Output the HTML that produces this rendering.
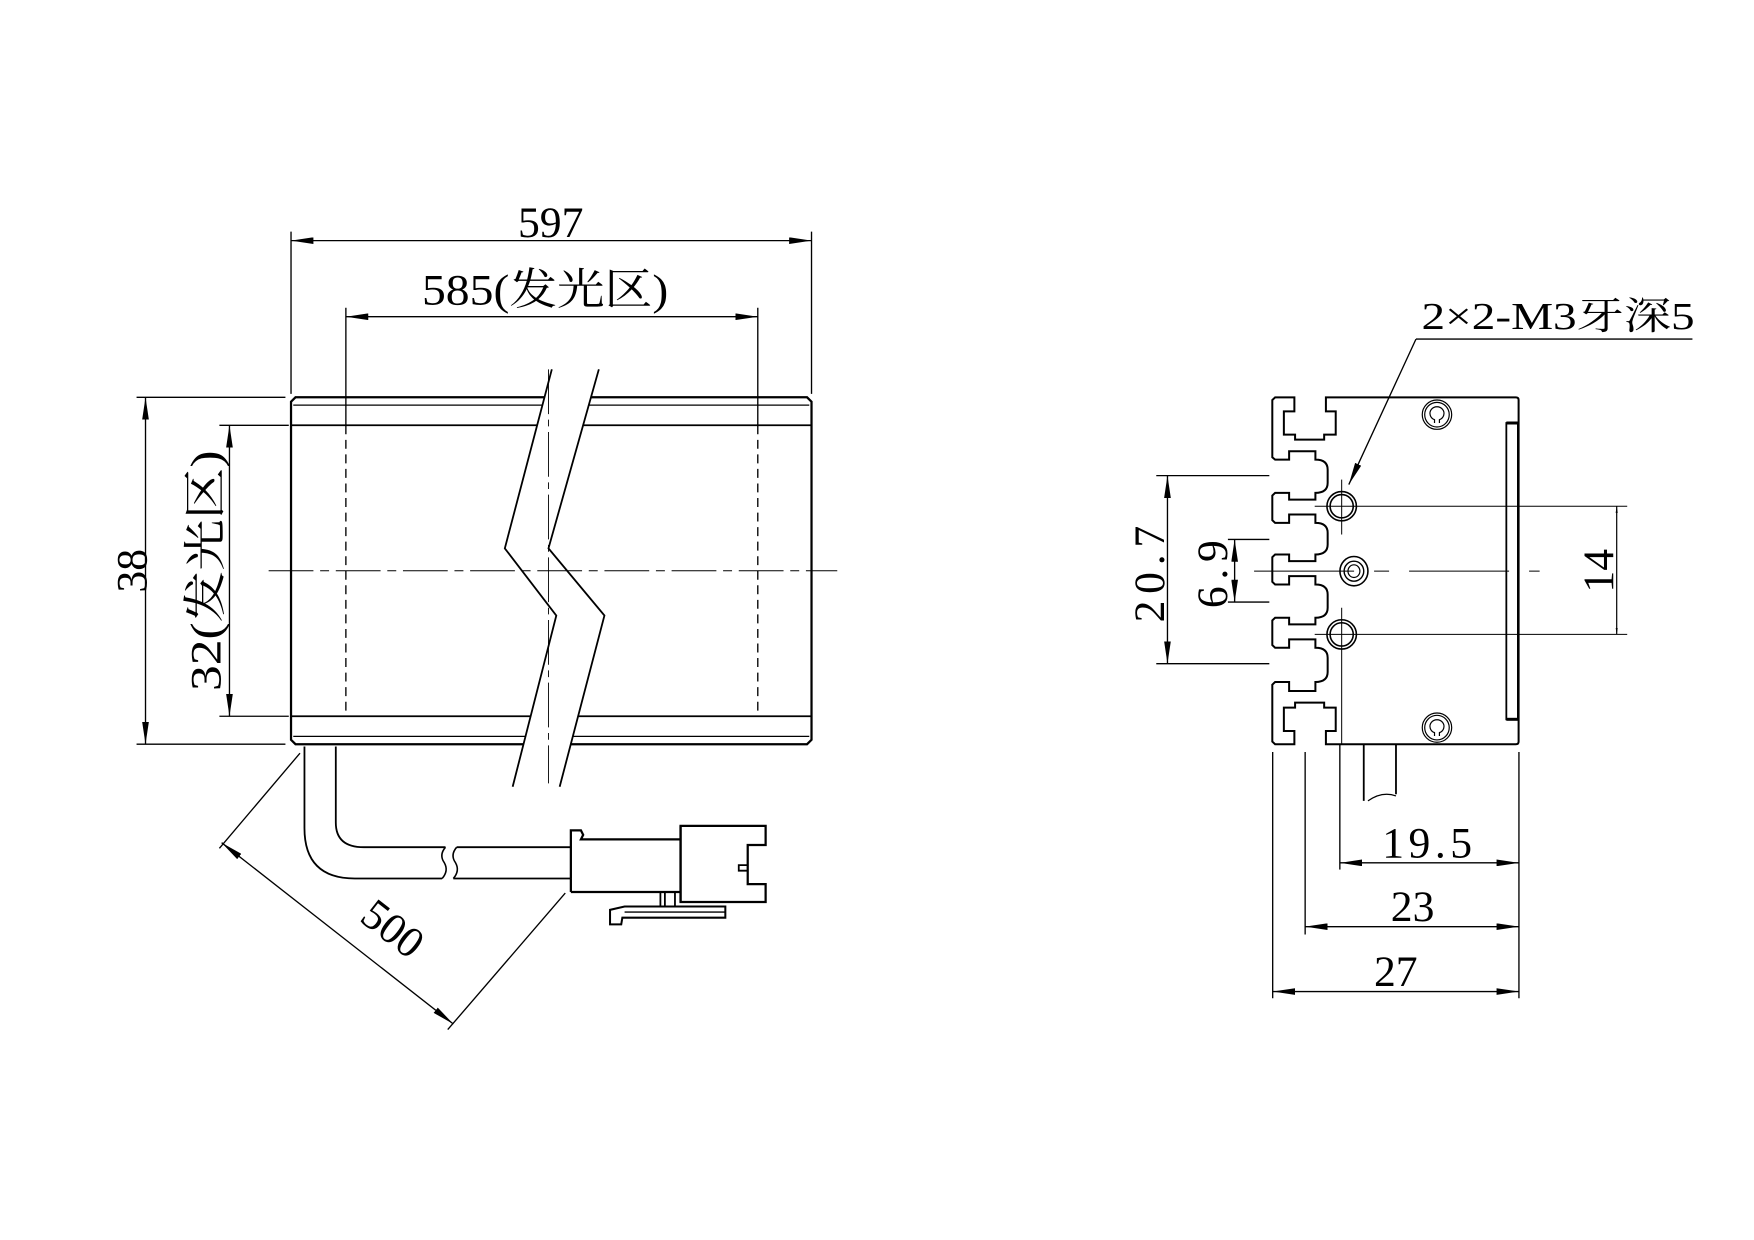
<!DOCTYPE html>
<html><head><meta charset="utf-8"><style>
html,body{margin:0;padding:0;background:#fff;}
svg{display:block;}
text{font-family:"Liberation Serif","Noto Serif CJK SC",serif;fill:#000;}
</style></head><body>
<svg width="1754" height="1240" viewBox="0 0 1567 1108" preserveAspectRatio="none" xmlns="http://www.w3.org/2000/svg">
<defs>
<marker id="a" viewBox="0 0 20 6" refX="20" refY="3" markerWidth="20" markerHeight="6" markerUnits="userSpaceOnUse" orient="auto-start-reverse">
<path d="M0,0 L20,3 L0,6 Z" fill="#000"/>
</marker>
</defs>
<g fill="none" stroke="#000" stroke-width="1.2">
<line x1="260" y1="207" x2="260" y2="352"/>
<line x1="725" y1="207" x2="725" y2="352"/>
<line x1="260" y1="215" x2="725" y2="215" marker-start="url(#a)" marker-end="url(#a)"/>
<line x1="309" y1="275" x2="309" y2="380"/>
<line x1="677" y1="275" x2="677" y2="380"/>
<line x1="309" y1="283" x2="677" y2="283" marker-start="url(#a)" marker-end="url(#a)"/>
<path d="M264,355 L721,355 L725,359 L725,661 L721,665 L264,665 L260,661 L260,359 Z" stroke-width="2"/>
<line x1="262" y1="362" x2="723" y2="362"/>
<line x1="260" y1="380" x2="725" y2="380" stroke-width="1.6"/>
<line x1="260" y1="640" x2="725" y2="640" stroke-width="1.6"/>
<line x1="262" y1="658" x2="723" y2="658"/>
<line x1="309" y1="380" x2="309" y2="640" stroke-dasharray="8,5"/>
<line x1="677" y1="380" x2="677" y2="640" stroke-dasharray="8,5"/>
<polygon points="493,330 451,490 497,550 458,703 500,703 540,550 490,490 535,330" fill="#fff" stroke="none"/>
<polyline points="493,330 451,490 497,550 458,703" stroke-width="1.6"/>
<polyline points="535,330 490,490 540,550 500,703" stroke-width="1.6"/>
<line x1="490" y1="330" x2="490" y2="700" stroke-width="0.8" stroke-dasharray="40,5,6,5"/>
<line x1="240" y1="510" x2="748" y2="510" stroke-width="0.9" stroke-dasharray="40,6,8,6"/>
<line x1="122" y1="355" x2="255" y2="355"/>
<line x1="122" y1="665" x2="255" y2="665"/>
<line x1="130" y1="355" x2="130" y2="665" marker-start="url(#a)" marker-end="url(#a)"/>
<line x1="196" y1="380" x2="258" y2="380"/>
<line x1="196" y1="640" x2="258" y2="640"/>
<line x1="205" y1="380" x2="205" y2="640" marker-start="url(#a)" marker-end="url(#a)"/>
<path d="M272,667 L272,740 Q272,785 317,785 L395,785" stroke-width="1.6"/>
<path d="M300,667 L300,735 Q300,757 325,757 L398,757" stroke-width="1.6"/>
<path d="M398,757 Q392,764 397,771 Q401,778 395,785" stroke-width="1.4"/>
<path d="M408,757 Q402,764 407,771 Q411,778 405,785" stroke-width="1.4"/>
<line x1="408" y1="757" x2="510" y2="757" stroke-width="1.6"/>
<line x1="405" y1="785" x2="510" y2="785" stroke-width="1.6"/>
<path d="M510,785 L510,742 L519,742 L521,746 L519,750 L608,750" stroke-width="2"/>
<line x1="510" y1="785" x2="510" y2="797" stroke-width="2"/>
<path d="M510,797 L608,797 M608,738 L684,738 L684,755 L668,755 L668,790 L684,790 L684,806 L608,806 Z" stroke-width="2"/>
<line x1="608" y1="738" x2="608" y2="806" stroke-width="2"/>
<path d="M668,773 L660,773 L660,778 L668,778" stroke-width="1.6"/>
<path d="M590,797 L590,810 M594,797 L594,810 M603,797 L603,810" stroke-width="1.6"/>
<path d="M648,810 L558,810 L545,813 L545,826 L555,826 L556,820 L648,820 Z" stroke-width="1.8"/>
<line x1="558" y1="815" x2="648" y2="815"/>
<line x1="268" y1="673" x2="196" y2="758"/>
<line x1="505" y1="798" x2="400" y2="920"/>
<line x1="198" y1="753" x2="405" y2="915" marker-start="url(#a)" marker-end="url(#a)"/>

<g transform="translate(1075,314) scale(0.313,0.2975)">
<path vector-effect="non-scaling-stroke" stroke-width="2" d="M900,146 Q900,138 892,138 L350,138 L350,180 L378,180 L378,250 L345,250 L345,265 L262,265 L262,250 L230,250 L230,180 L260,180 L260,138 L205,138 L197,146 L197,318 L205,325 L245,325 L245,300 L320,300 L320,325 Q355,325 355,355 L355,395 Q355,425 320,425 L320,445 L245,445 L245,425 L205,425 L197,433 L197,507 L205,515 L245,515 L245,490 L320,490 L320,515 Q355,515 355,545 L355,580 Q355,610 320,610 L320,630 L245,630 L245,610 L205,610 L197,618 L197,692 L205,700 L245,700 L245,675 L320,675 L320,700 Q355,700 355,730 L355,770 Q355,800 320,800 L320,820 L245,820 L245,800 L205,800 L197,808 L197,882 L205,890 L245,890 L245,865 L320,865 L320,890 Q355,890 355,920 L355,963 Q355,993 320,993 L320,1020 L245,1020 L245,993 L205,993 L197,1001 L197,1172 L205,1180 L260,1180 L260,1140 L230,1140 L230,1070 L262,1070 L262,1055 L345,1055 L345,1070 L378,1070 L378,1140 L350,1140 L350,1180 L892,1180 Q900,1180 900,1172 Z"/>
<rect vector-effect="non-scaling-stroke" x="865" y="215" width="33" height="890" stroke-width="1.8"/>
<line vector-effect="non-scaling-stroke" x1="865" y1="215" x2="900" y2="215" stroke-width="3"/>
<line vector-effect="non-scaling-stroke" x1="865" y1="1105" x2="900" y2="1105" stroke-width="3"/>
<ellipse vector-effect="non-scaling-stroke" cx="667" cy="190" rx="42" ry="44"/>
<ellipse vector-effect="non-scaling-stroke" cx="667" cy="190" rx="35" ry="37"/>
<path vector-effect="non-scaling-stroke" d="M660,215 L660,205 A20,20 0 1 1 674,205 L674,215"/>
<ellipse vector-effect="non-scaling-stroke" cx="667" cy="1130" rx="42" ry="44"/>
<ellipse vector-effect="non-scaling-stroke" cx="667" cy="1130" rx="35" ry="37"/>
<path vector-effect="non-scaling-stroke" d="M660,1155 L660,1145 A20,20 0 1 1 674,1145 L674,1155"/>
<ellipse vector-effect="non-scaling-stroke" cx="395" cy="465" rx="42" ry="44" stroke-width="1.6"/>
<ellipse vector-effect="non-scaling-stroke" cx="395" cy="465" rx="33" ry="35" stroke-width="1.6"/>
<ellipse vector-effect="non-scaling-stroke" cx="395" cy="850" rx="42" ry="44" stroke-width="1.6"/>
<ellipse vector-effect="non-scaling-stroke" cx="395" cy="850" rx="33" ry="35" stroke-width="1.6"/>
<ellipse vector-effect="non-scaling-stroke" cx="430" cy="660" rx="40" ry="44" stroke-width="1.6"/>
<ellipse vector-effect="non-scaling-stroke" cx="430" cy="660" rx="28" ry="30" stroke-width="1.4"/>
<ellipse vector-effect="non-scaling-stroke" cx="430" cy="660" rx="17" ry="19"/>
<line vector-effect="non-scaling-stroke" x1="395" y1="385" x2="395" y2="550" stroke-width="1"/>
<line vector-effect="non-scaling-stroke" x1="395" y1="770" x2="395" y2="1180" stroke-width="1"/>
<line vector-effect="non-scaling-stroke" x1="318" y1="465" x2="1210" y2="465" stroke-width="1"/>
<line vector-effect="non-scaling-stroke" x1="318" y1="850" x2="1210" y2="850" stroke-width="1"/>
<line vector-effect="non-scaling-stroke" x1="145" y1="660" x2="960" y2="660" stroke-width="1" stroke-dasharray="100,20,15,20"/>
<line vector-effect="non-scaling-stroke" x1="1180" y1="465" x2="1180" y2="850" stroke-width="1.2" marker-start="url(#a)" marker-end="url(#a)"/>
<path vector-effect="non-scaling-stroke" stroke-width="1.8" d="M458,1180 L458,1350 M550,1180 L550,1330"/>
<path vector-effect="non-scaling-stroke" d="M470,1350 Q510,1320 550,1335"/>
</g>
<line x1="1137" y1="672" x2="1137" y2="892"/>
<line x1="1166" y1="672" x2="1166" y2="835"/>
<line x1="1197" y1="665" x2="1197" y2="777"/>
<line x1="1357" y1="672" x2="1357" y2="892"/>
<line x1="1197" y1="771" x2="1357" y2="771" marker-start="url(#a)" marker-end="url(#a)"/>
<line x1="1166" y1="828" x2="1357" y2="828" marker-start="url(#a)" marker-end="url(#a)"/>
<line x1="1137" y1="886" x2="1357" y2="886" marker-start="url(#a)" marker-end="url(#a)"/>
<line x1="1033" y1="425" x2="1134" y2="425"/>
<line x1="1033" y1="593" x2="1134" y2="593"/>
<line x1="1043" y1="425" x2="1043" y2="593" marker-start="url(#a)" marker-end="url(#a)"/>
<line x1="1097" y1="482" x2="1134" y2="482"/>
<line x1="1097" y1="538" x2="1134" y2="538"/>
<line x1="1103" y1="482" x2="1103" y2="538" marker-start="url(#a)" marker-end="url(#a)"/>
<line x1="1265" y1="303" x2="1512" y2="303"/>
<line x1="1265" y1="303" x2="1205" y2="433" marker-end="url(#a)"/>
</g>
<g font-size="39">
<text x="492" y="212" text-anchor="middle">597</text>
<text x="487" y="272" text-anchor="middle" textLength="220" lengthAdjust="spacingAndGlyphs">585(发光区)</text>
<text transform="translate(131,510) rotate(-90)" text-anchor="middle">38</text>
<text transform="translate(197,510) rotate(-90)" text-anchor="middle" textLength="215" lengthAdjust="spacingAndGlyphs">32(发光区)</text>
<text transform="translate(343,840) rotate(38)" text-anchor="middle">500</text>
<text x="1277" y="766" text-anchor="middle" letter-spacing="4">19.5</text>
<text x="1262" y="823" text-anchor="middle">23</text>
<text x="1247" y="881" text-anchor="middle">27</text>
<text transform="translate(1040,510) rotate(-90)" text-anchor="middle" letter-spacing="6">20.7</text>
<text transform="translate(1096,510) rotate(-90)" text-anchor="middle" letter-spacing="6">6.9</text>
<text transform="translate(1441,510) rotate(-90)" text-anchor="middle">14</text>
<text x="1270" y="294" font-size="34" textLength="244" lengthAdjust="spacingAndGlyphs">2×2-M3牙深5</text>
</g>
</svg>
</body></html>
